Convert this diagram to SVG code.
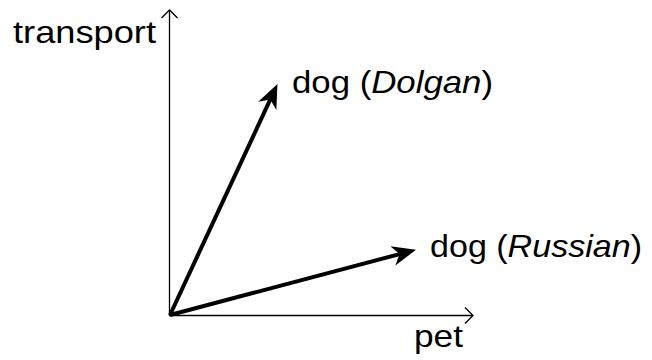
<svg xmlns="http://www.w3.org/2000/svg" width="652" height="360" viewBox="0 0 652 360">
<style>
.lbl{font-family:"Liberation Sans",Arial,sans-serif;font-size:32px;fill:#000}
.axis{stroke:#000;stroke-width:1.3;fill:none}
.vec{stroke:#000;stroke-width:4;fill:none}
</style>
<defs>
<marker id="open" markerUnits="userSpaceOnUse" markerWidth="20" markerHeight="20" refX="10" refY="10" orient="auto" overflow="visible">
<polyline points="2,2 10,10 2,18" fill="none" stroke="#000" stroke-width="1.3"/>
</marker>
<marker id="head" markerUnits="userSpaceOnUse" markerWidth="30" markerHeight="24" refX="10" refY="10" orient="auto" overflow="visible">
<path d="M25,10 L1,0 L8,10 L1,20 Z" fill="#000"/>
</marker>
</defs>
<g id="connectors">
<line id="y-axis" class="axis" x1="169.5" y1="316" x2="169.5" y2="10" marker-end="url(#open)"/>
<line id="x-axis" class="axis" x1="169" y1="315.5" x2="473" y2="315.5" marker-end="url(#open)"/>
<line id="vec-dolgan" class="vec" x1="170" y1="315" x2="271.1" y2="97.7" marker-end="url(#head)"/>
<line id="vec-russian" class="vec" x1="170" y1="315" x2="401.5" y2="253.6" marker-end="url(#head)"/>
</g>
<g id="label-transport"><text class="lbl" x="13" y="43" textLength="143" lengthAdjust="spacingAndGlyphs">transport</text></g>
<g id="label-pet"><text class="lbl" x="414" y="347" textLength="49" lengthAdjust="spacingAndGlyphs">pet</text></g>
<g id="label-dolgan"><text class="lbl" x="292" y="93" textLength="201" lengthAdjust="spacingAndGlyphs">dog (<tspan font-style="italic">Dolgan</tspan>)</text></g>
<g id="label-russian"><text class="lbl" x="430" y="257" textLength="212" lengthAdjust="spacingAndGlyphs">dog (<tspan font-style="italic">Russian</tspan>)</text></g>
</svg>
